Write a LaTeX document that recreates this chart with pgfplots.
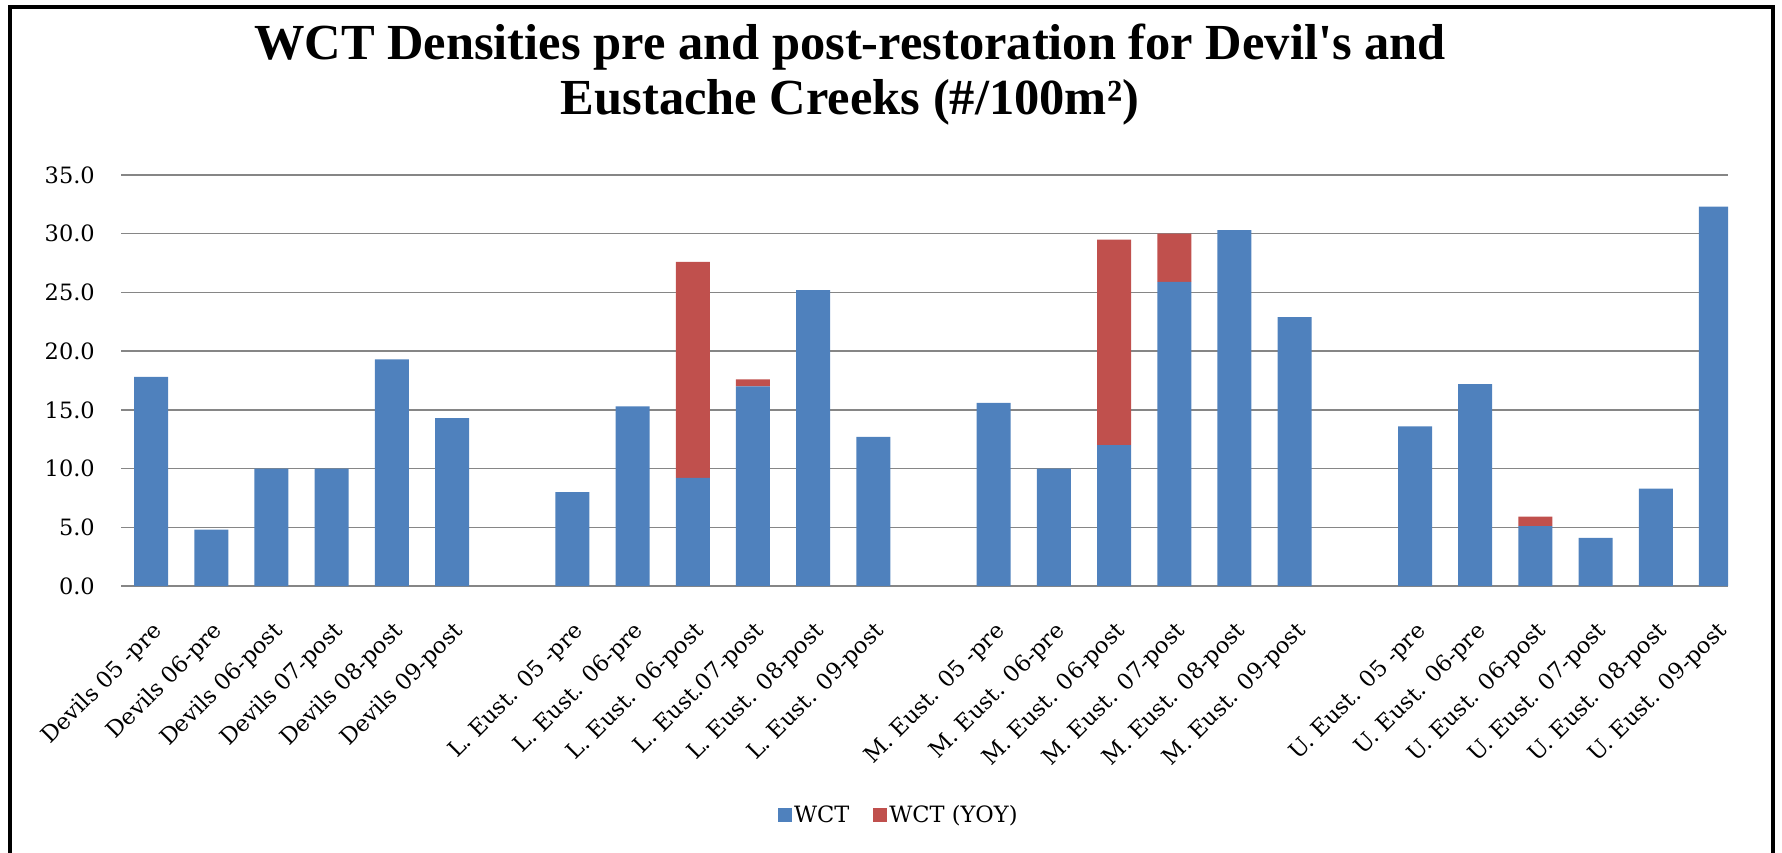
\documentclass[border=0pt]{standalone}
\usepackage{fontspec}
\setmainfont{DejaVu Serif}
\newfontfamily\titlefont{Liberation Serif}
\usepackage{pgfplots}
\pgfplotsset{compat=1.18}
\definecolor{wctblue}{RGB}{79,129,189}
\definecolor{wctred}{RGB}{192,80,77}
\definecolor{gridgray}{RGB}{134,134,134}
\begin{document}
\begin{tikzpicture}[x=1pt,y=1pt]
\useasboundingbox (0,0) rectangle (1782,852);
\draw[line width=3.5pt] (10,-5) -- (10,845) -- (1773,845) -- (1773,-5);
\node[font=\titlefont\bfseries\fontsize{50.5}{60}\selectfont, anchor=base] at (850,792) {WCT Densities pre and post-restoration for Devil's and};
\node[font=\titlefont\bfseries\fontsize{50.5}{60}\selectfont, anchor=base] at (850,737) {Eustache Creeks (\#/100m²)};
\begin{axis}[
  at={(121pt,266pt)}, anchor=south west,
  width=1607pt, height=411pt, scale only axis,
  xmin=-0.5, xmax=26.2, ymin=0, ymax=35,
  ybar stacked, bar width=34pt,
  ytick={0,5,...,35},
  yticklabel={\pgfmathprintnumber[fixed,fixed zerofill,precision=1,assume math mode=true]{\tick}},
  xtick={0,1,2,3,4,5,7,8,9,10,11,12,14,15,16,17,18,19,21,22,23,24,25,26},
  xticklabels={{Devils 05 -pre},{Devils 06-pre},{Devils 06-post},{Devils 07-post},{Devils 08-post},{Devils 09-post},
    {L. Eust. 05 -pre},{L. Eust. 06-pre},{L. Eust. 06-post},{L. Eust.07-post},{L. Eust. 08-post},{L. Eust. 09-post},
    {M. Eust. 05 -pre},{M. Eust. 06-pre},{M. Eust. 06-post},{M. Eust. 07-post},{M. Eust. 08-post},{M. Eust. 09-post},
    {U. Eust. 05 -pre},{U. Eust. 06-pre},{U. Eust. 06-post},{U. Eust. 07-post},{U. Eust. 08-post},{U. Eust. 09-post}},
  ymajorgrids, grid style={gridgray, line width=1.5pt},
  axis line style={draw=none},
  major tick length=0pt,
  tick label style={font=\fontsize{22.5}{27}\selectfont, inner sep=0pt},
  yticklabel style={anchor=east},
  yticklabel shift=26pt,
  xticklabel style={rotate=45, anchor=north east},
  xticklabel shift=34pt,
  legend style={at={(0.484,-0.557)}, anchor=center, draw=none, legend columns=2,
    font=\fontsize{22.5}{27}\selectfont,
    /tikz/every even column/.append style={column sep=22pt}},
  legend image code/.code={\fill[#1] (0pt,-7pt) rectangle (14pt,7pt);},
]
\addplot[fill=wctblue, draw=none] coordinates {
(0,17.8) (1,4.8) (2,10.0) (3,10.0) (4,19.3) (5,14.3)
(7,8.0) (8,15.3) (9,9.2) (10,17.0) (11,25.2) (12,12.7)
(14,15.6) (15,10.0) (16,12.0) (17,25.9) (18,30.3) (19,22.9)
(21,13.6) (22,17.2) (23,5.1) (24,4.1) (25,8.3) (26,32.3)};
\addplot[fill=wctred, draw=none] coordinates {
(0,0) (1,0) (2,0) (3,0) (4,0) (5,0)
(7,0) (8,0) (9,18.4) (10,0.6) (11,0) (12,0)
(14,0) (15,0) (16,17.5) (17,4.1) (18,0) (19,0)
(21,0) (22,0) (23,0.8) (24,0) (25,0) (26,0)};
\legend{WCT,WCT (YOY)}
\end{axis}
\end{tikzpicture}
\end{document}
